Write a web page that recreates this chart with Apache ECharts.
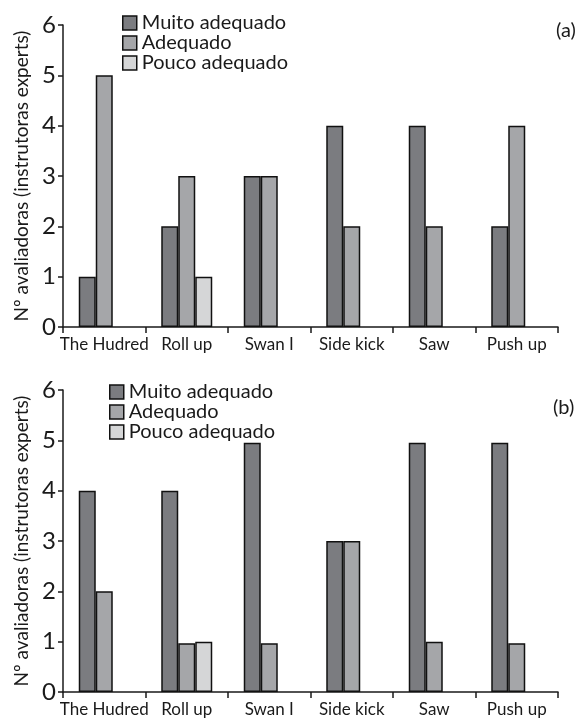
<!DOCTYPE html>
<html><head><meta charset="utf-8">
<script src="https://cdn.jsdelivr.net/npm/echarts@6/dist/echarts.min.js"></script>
<style>html,body{margin:0;padding:0;background:#fff}#c{width:584px;height:720px}</style>
</head><body><div id="c"></div>
<script>
const categories = ['The Hudred', 'Roll up', 'Swan I', 'Side kick', 'Saw', 'Push up'];
const seriesNames = ['Muito adequado', 'Adequado', 'Pouco adequado'];
const aMuito = [1, 2, 3, 4, 4, 2];
const aAdequado = [5, 3, 3, 2, 2, 4];
const aPouco = [null, 1, null, null, null, null];
const bMuito = [4, 4, 4.95, 3, 4.95, 4.95];
const bAdequado = [2, 0.97, 0.97, 3, 1.0, 0.97];
const bPouco = [null, 1.0, null, null, null, null];
const yTicks = [0, 1, 2, 3, 4, 5, 6];
const yName = 'Nº avaliadoras (instrutoras experts)';
const panelLabels = ['(a)', '(b)'];

const FONT = 'Lato';
const colors = ['#7b7c80', '#a5a6a9', '#d5d6d7'];
const chart = echarts.init(document.getElementById('c'));

function xAxis(idx) {
  return {
    type: 'category', gridIndex: idx, data: categories,
    axisLine: { lineStyle: { color: '#1a1a1a', width: 1.5 } },
    axisTick: { show: true, length: 6, alignWithLabel: false, lineStyle: { color: '#1a1a1a', width: 1.5 } },
    axisLabel: { color: '#1a1a1a', fontSize: 17, fontFamily: FONT, margin: 9, interval: 0 }
  };
}
function yAxis(idx) {
  return {
    type: 'value', gridIndex: idx, min: yTicks[0], max: yTicks[yTicks.length - 1], interval: 1,
    name: yName, nameLocation: 'middle', nameGap: 32,
    nameTextStyle: { color: '#1a1a1a', fontSize: 19, fontFamily: FONT },
    axisLine: { show: true, lineStyle: { color: '#1a1a1a', width: 1.5 } },
    axisTick: { show: true, length: 5, lineStyle: { color: '#1a1a1a', width: 1.5 } },
    splitLine: { show: false },
    axisLabel: { color: '#1a1a1a', fontSize: 24, fontFamily: FONT, margin: 7 }
  };
}
function bars(idx, data) {
  return data.map((d, i) => ({
    name: seriesNames[i], type: 'bar', xAxisIndex: idx, yAxisIndex: idx,
    data: d, barWidth: 17, barGap: '0%',
    itemStyle: { color: colors[i], borderColor: '#111', borderWidth: 1.5 },
    emphasis: { disabled: true }, animation: false
  }));
}
function legend(left, top) {
  return {
    orient: 'vertical', left: left, top: top, itemWidth: 14, itemHeight: 14, itemGap: 0,
    icon: 'rect', data: seriesNames, selectedMode: false,
    textStyle: { color: '#1a1a1a', fontSize: 20, fontFamily: FONT, lineHeight: 20 },
    itemStyle: { borderColor: '#111', borderWidth: 1.5 }
  };
}

chart.setOption({
  animation: false,
  grid: [
    { left: 63, top: 25, width: 495, height: 302 },
    { left: 63, top: 390, width: 495, height: 302 }
  ],
  xAxis: [xAxis(0), xAxis(1)],
  yAxis: [yAxis(0), yAxis(1)],
  legend: [legend(117, 8), legend(104, 377)],
  series: [].concat(bars(0, [aMuito, aAdequado, aPouco]), bars(1, [bMuito, bAdequado, bPouco])),
  graphic: [
    { type: 'text', left: 556, top: 21, style: { text: panelLabels[0], fontSize: 20, fontFamily: FONT, fill: '#1a1a1a' } },
    { type: 'text', left: 553, top: 398, style: { text: panelLabels[1], fontSize: 20, fontFamily: FONT, fill: '#1a1a1a' } }
  ]
});
</script></body></html>
